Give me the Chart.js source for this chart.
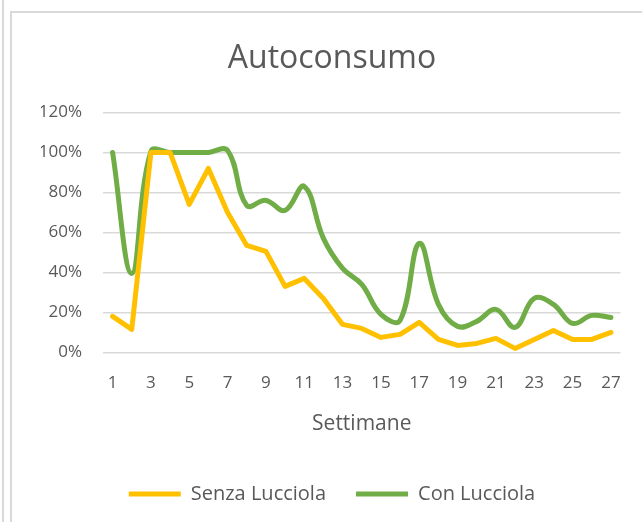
<!DOCTYPE html>
<html><head><meta charset="utf-8">
<script src="https://cdn.jsdelivr.net/npm/chart.js@4/dist/chart.umd.min.js"></script>
<style>
html,body{margin:0;padding:0;background:#fff;}
#wrap{position:relative;width:642px;height:522px;overflow:hidden;background:#fff;}
#l1{position:absolute;left:2px;top:0;width:2px;height:522px;background:#d9d9d9;}
#box{position:absolute;left:10px;top:11px;width:640px;height:520px;border-left:2px solid #d9d9d9;border-top:2px solid #d9d9d9;}
canvas{position:absolute;left:0;top:0;}
</style></head>
<body><div id="wrap"><div id="l1"></div><div id="box"></div><canvas id="c" width="642" height="522"></canvas></div>
<script>
const weeks = ['1','2','3','4','5','6','7','8','9','10','11','12','13','14','15','16','17','18','19','20','21','22','23','24','25','26','27'];
const senzaLucciola = [18, 11.5, 100, 100, 74, 92, 70, 53.5, 50.5, 33, 37, 27, 14, 12, 7.5, 9, 15, 6.5, 3.5, 4.5, 7, 2, 6.5, 11, 6.5, 6.5, 10];
const conLucciola = [100, 39.5, 100.5, 100, 100, 100, 101, 73.5, 76, 71, 83, 57, 42, 34, 19, 16, 54.5, 24, 13, 15.5, 21.5, 12.5, 27, 24, 14.5, 18.5, 17.5];
const yTicks = [0, 20, 40, 60, 80, 100, 120];

const FONT = "'Open Sans', 'Liberation Sans', sans-serif";
const GREY = '#595959';

new Chart(document.getElementById('c'), {
  type: 'line',
  data: {
    labels: weeks,
    datasets: [
      { label: 'Senza Lucciola', data: senzaLucciola, borderColor: '#FFC000', backgroundColor: '#FFC000',
        borderWidth: 5, pointRadius: 0, tension: 0, borderCapStyle: 'round', borderJoinStyle: 'round' },
      { label: 'Con Lucciola', data: conLucciola, borderColor: '#70AD47', backgroundColor: '#70AD47',
        borderWidth: 5, pointRadius: 0, tension: 0.4, borderCapStyle: 'round', borderJoinStyle: 'round' }
    ]
  },
  options: {
    responsive: false,
    animation: false,
    devicePixelRatio: 1,
    layout: { padding: { left: 41, right: 19, top: 40, bottom: 8 } },
    plugins: {
      title: { display: true, text: 'Autoconsumo', color: GREY,
        font: { family: FONT, size: 32, weight: 'normal' }, padding: { top: 0, bottom: 34 } },
      legend: { position: 'bottom',
        labels: { color: GREY, font: { family: FONT, size: 20 }, usePointStyle: true, pointStyle: 'line',
          pointStyleWidth: 52, boxHeight: 5, padding: 30 } },
      tooltip: { enabled: false }
    },
    scales: {
      x: {
        offset: true,
        grid: { display: false, drawTicks: false }, border: { display: false },
        ticks: { color: GREY, font: { family: FONT, size: 17 }, autoSkip: false, maxRotation: 0, padding: 21,
          callback: (v, i) => (i % 2 === 0 ? weeks[i] : '') },
        title: { display: true, text: 'Settimane', color: GREY, font: { family: FONT, size: 21 }, padding: { top: -3, bottom: 17 } }
      },
      y: {
        min: 0, max: 120,
        afterFit: (s) => { s.width = 62; },
        afterBuildTicks: (s) => { s.ticks = yTicks.map(v => ({ value: v })); },
        grid: { color: '#d9d9d9', lineWidth: 1.5, drawTicks: false }, border: { display: false },
        ticks: { color: GREY, font: { family: FONT, size: 17 }, padding: 21, callback: (v) => v + '%' }
      }
    }
  }
});
</script>
</body></html>
